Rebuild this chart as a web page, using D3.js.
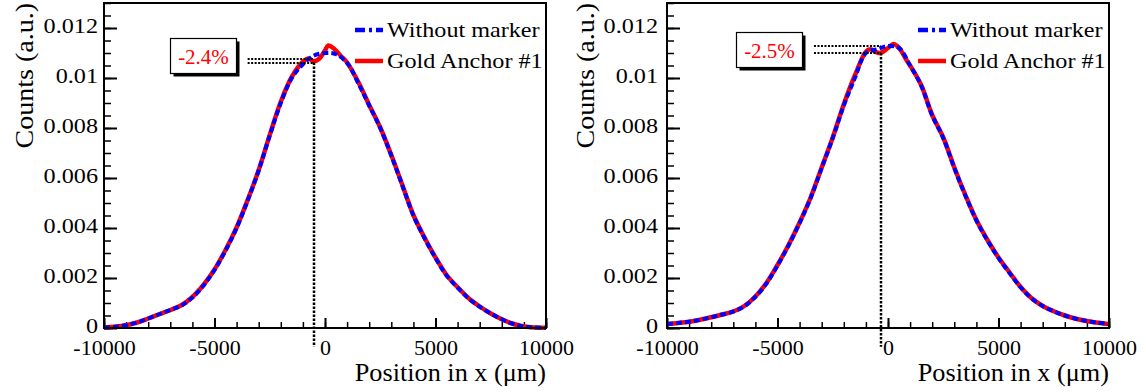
<!DOCTYPE html>
<html>
<head>
<meta charset="utf-8">
<script src="https://cdn.jsdelivr.net/npm/d3@7"></script>
<style>
  body { margin: 0; background: #fff; }
  svg text { font-family: "Liberation Serif", "DejaVu Serif", "Times New Roman", serif; fill: #000; }
</style>
</head>
<body>
<svg id="chart" width="1146" height="392"></svg>
<script>
// common x grid (um) for the "Without marker" curves
const positions = [-10000, -9500, -9000, -8500, -8000, -7500, -7000, -6500, -6000, -5500,
  -5000, -4500, -4000, -3500, -3000, -2500, -2000, -1500, -1000, -500,
  0, 500, 1000, 1500, 2000, 2500, 3000, 3500, 4000, 4500,
  5000, 5500, 6000, 6500, 7000, 7500, 8000, 8500, 9000, 9500, 10000];

const leftWithoutMarker = [0.00002, 0.00005, 0.00011, 0.00022, 0.00038, 0.00055, 0.00072, 0.00090, 0.00122, 0.00170,
  0.00232, 0.00310, 0.00400, 0.00510, 0.00630, 0.00770, 0.00900, 0.01000, 0.01055, 0.01090,
  0.01100, 0.01095, 0.01060, 0.00980, 0.00890, 0.00800, 0.00690, 0.00570, 0.00450, 0.00360,
  0.00280, 0.00210, 0.00162, 0.00118, 0.00085, 0.00058, 0.00035, 0.00017, 0.00006, 0.00002, 0.00001];

const leftGoldX = [-10000, -9500, -9000, -8500, -8000, -7500, -7000, -6500, -6000, -5500,
  -5000, -4500, -4000, -3500, -3000, -2500, -2000, -1500, -1000, -750,
  -500, -250, 0, 150, 400, 750, 1000, 1500, 2000, 2500,
  3000, 3500, 4000, 4500, 5000, 5500, 6000, 6500, 7000, 7500,
  8000, 8500, 9000, 9500, 10000];
const leftGold = [0.00002, 0.00005, 0.00011, 0.00022, 0.00038, 0.00055, 0.00072, 0.00091, 0.00124, 0.00172,
  0.00234, 0.00312, 0.00402, 0.00512, 0.00632, 0.00772, 0.00905, 0.01005, 0.01065, 0.01078,
  0.01067, 0.01078, 0.01110, 0.01130, 0.01118, 0.01085, 0.01062, 0.00985, 0.00892, 0.00802,
  0.00692, 0.00572, 0.00452, 0.00362, 0.00282, 0.00212, 0.00163, 0.00119, 0.00086, 0.00058,
  0.00035, 0.00017, 0.00006, 0.00002, 0.00001];

const rightWithoutMarker = [0.00016, 0.00020, 0.00025, 0.00033, 0.00043, 0.00054, 0.00066, 0.00087, 0.00125, 0.00178,
  0.00250, 0.00330, 0.00420, 0.00520, 0.00640, 0.00760, 0.00890, 0.01000, 0.01100, 0.01115,
  0.01128, 0.01120, 0.01050, 0.00970, 0.00850, 0.00760, 0.00640, 0.00530, 0.00430, 0.00350,
  0.00280, 0.00220, 0.00163, 0.00118, 0.00088, 0.00067, 0.00050, 0.00037, 0.00028, 0.00021, 0.00016];

const rightGoldX = [-10000, -9500, -9000, -8500, -8000, -7500, -7000, -6500, -6000, -5500,
  -5000, -4500, -4000, -3500, -3000, -2500, -2000, -1500, -1000, -800,
  -500, -350, 0, 250, 500, 850, 1000, 1500, 2000, 2500,
  3000, 3500, 4000, 4500, 5000, 5500, 6000, 6500, 7000, 7500,
  8000, 8500, 9000, 9500, 10000];
const rightGold = [0.00016, 0.00020, 0.00025, 0.00033, 0.00043, 0.00054, 0.00066, 0.00088, 0.00126, 0.00180,
  0.00252, 0.00332, 0.00422, 0.00522, 0.00642, 0.00762, 0.00895, 0.01010, 0.01105, 0.01115,
  0.01102, 0.01100, 0.01120, 0.01136, 0.01120, 0.01070, 0.01050, 0.00972, 0.00852, 0.00762,
  0.00642, 0.00532, 0.00432, 0.00352, 0.00282, 0.00222, 0.00164, 0.00119, 0.00088, 0.00067,
  0.00050, 0.00037, 0.00028, 0.00021, 0.00016];

const xTickValues = [-10000, -5000, 0, 5000, 10000];
const yTickValues = [0, 0.002, 0.004, 0.006, 0.008, 0.01, 0.012];
const seriesNames = ["Without marker", "Gold Anchor #1"];

// dip annotation per panel
const dropLabels = ["-2.4%", "-2.5%"];
const dropX = [-500, -300];
const dropLevels = [[0.01076, 0.01062], [0.01128, 0.01100]];
const dropFrom = [-3500, -3350];
const boxLevel = [0.01090, 0.01115];
const dropBottom = -0.00075;

const serif = '"Liberation Serif", "DejaVu Serif", "Times New Roman", serif';
const svg = d3.select("#chart");

function stretch(sel, k) {
  sel.each(function () {
    const w = this.getComputedTextLength();
    d3.select(this).attr("textLength", w * k).attr("lengthAdjust", "spacingAndGlyphs");
  });
}

const panels = [
  { left: 104, right: 546, blue: leftWithoutMarker, redX: leftGoldX, red: leftGold, labelGap: 6, titleX: 33 },
  { left: 667, right: 1109, blue: rightWithoutMarker, redX: rightGoldX, red: rightGold, labelGap: 9, titleX: 594 }
];

panels.forEach((p, i) => {
  const g = svg.append("g");

  const x = d3.scaleLinear().domain([-10000, 10000]).range([p.left, p.right]);
  const y = d3.scaleLinear().domain([0, 0.013]).range([328, 3]);

  // minor ticks
  g.append("g")
    .attr("transform", `translate(0, ${y(0)})`)
    .call(d3.axisBottom(x).tickValues(d3.range(-10000, 10001, 1000)).tickSizeInner(-6).tickSizeOuter(0).tickFormat(""))
    .call(a => a.select(".domain").remove())
    .call(a => a.selectAll("line").attr("stroke-width", 1.5));
  g.append("g")
    .attr("transform", `translate(${p.left}, 0)`)
    .call(d3.axisLeft(y).tickValues(d3.range(0, 0.01301, 0.0005)).tickSizeInner(-7).tickSizeOuter(0).tickFormat(""))
    .call(a => a.select(".domain").remove())
    .call(a => a.selectAll("line").attr("stroke-width", 1.5));

  // major ticks + labels
  const xAxis = g.append("g")
    .attr("transform", `translate(0, ${y(0)})`)
    .call(d3.axisBottom(x).tickValues(xTickValues).tickSizeInner(-10).tickSizeOuter(0).tickFormat(d => String(d)));
  xAxis.attr("font-family", null).attr("font-size", null);
  xAxis.select(".domain").remove();
  xAxis.selectAll("line").attr("stroke-width", 2);
  xAxis.selectAll("text").attr("dy", null).attr("y", 27)
    .attr("font-family", serif).style("font-family", serif).style("font-size", "22px").attr("fill", "#000");

  const yAxis = g.append("g")
    .attr("transform", `translate(${p.left}, 0)`)
    .call(d3.axisLeft(y).tickValues(yTickValues).tickSizeInner(-13).tickSizeOuter(0)
      .tickFormat(d => d === 0 ? "0" : String(+d.toFixed(3))));
  yAxis.attr("font-family", null).attr("font-size", null);
  yAxis.select(".domain").remove();
  yAxis.selectAll("line").attr("stroke-width", 2);
  yAxis.selectAll("text").attr("dy", null).attr("y", 4.5).attr("x", -p.labelGap)
    .attr("font-family", serif).style("font-family", serif).style("font-size", "22px").attr("fill", "#000");
  stretch(yAxis.selectAll("text"), 1.1);

  // curves
  const line = d3.line().curve(d3.curveCatmullRom).x(d => x(d[0])).y(d => y(d[1]));
  g.append("path")
    .datum(p.redX.map((v, j) => [v, p.red[j]]))
    .attr("d", line).attr("fill", "none").attr("stroke", "#ff0000").attr("stroke-width", 4.5);
  g.append("path")
    .datum(positions.map((v, j) => [v, p.blue[j]]))
    .attr("d", line).attr("fill", "none").attr("stroke", "#0000ff").attr("stroke-width", 4)
    .attr("stroke-dasharray", "6,3");

  // dip annotation
  const vx = Math.round(x(dropX[i]));
  dropLevels[i].forEach(lv => {
    const hy = Math.round(y(lv));
    g.append("line")
      .attr("x1", x(dropFrom[i])).attr("x2", vx)
      .attr("y1", hy).attr("y2", hy)
      .attr("stroke", "#000").attr("stroke-width", 2).attr("stroke-dasharray", "2,1.5");
  });
  g.append("line")
    .attr("x1", vx).attr("x2", vx)
    .attr("y1", y(d3.min(dropLevels[i]))).attr("y2", y(dropBottom))
    .attr("stroke", "#000").attr("stroke-width", 2.5).attr("stroke-dasharray", "2.5,1.5");

  const bw = 66, bh = 35;
  const bx = Math.round(x(dropFrom[i]) - 12 - bw) + 0.5;
  const by = Math.round(y(boxLevel[i]) - bh / 2) + 0.5;
  g.append("rect").attr("x", bx + 3).attr("y", by + 3).attr("width", bw).attr("height", bh).attr("fill", "#000");
  g.append("rect").attr("x", bx).attr("y", by).attr("width", bw).attr("height", bh)
    .attr("fill", "#fff").attr("stroke", "#000").attr("stroke-width", 1.2);
  g.append("text")
    .attr("x", bx + bw / 2).attr("y", by + bh / 2 + 8)
    .attr("text-anchor", "middle").style("font-size", "21px").style("fill", "#ff0000")
    .text(dropLabels[i]);

  // frame
  g.append("rect")
    .attr("x", p.left).attr("y", y(0.013))
    .attr("width", p.right - p.left).attr("height", y(0) - y(0.013))
    .attr("fill", "none").attr("stroke", "#000").attr("stroke-width", 2);

  // legend
  const lx = p.right - 191;
  const rows = [
    { name: seriesNames[0], color: "#0000ff", dash: "10,4,3,4", yy: 30 },
    { name: seriesNames[1], color: "#ff0000", dash: null, yy: 61 }
  ];
  rows.forEach(r => {
    g.append("line")
      .attr("x1", lx).attr("x2", lx + 28).attr("y1", r.yy).attr("y2", r.yy)
      .attr("stroke", r.color).attr("stroke-width", 4.5)
      .attr("stroke-dasharray", r.dash);
    const t = g.append("text")
      .attr("x", lx + 32).attr("y", r.yy + 6.5)
      .style("font-size", "21px").text(r.name);
    stretch(t, 1.15);
  });

  // axis titles
  const xt = g.append("text")
    .attr("x", p.right).attr("y", 381).attr("text-anchor", "end")
    .style("font-size", "25px").text("Position in x (\u03bcm)");
  stretch(xt, 1.05);
  const yt = g.append("text")
    .attr("transform", `translate(${p.titleX}, 3) rotate(-90)`)
    .attr("text-anchor", "end")
    .style("font-size", "25px").text("Counts (a.u.)");
  stretch(yt, 1.12);
});
</script>
</body>
</html>
